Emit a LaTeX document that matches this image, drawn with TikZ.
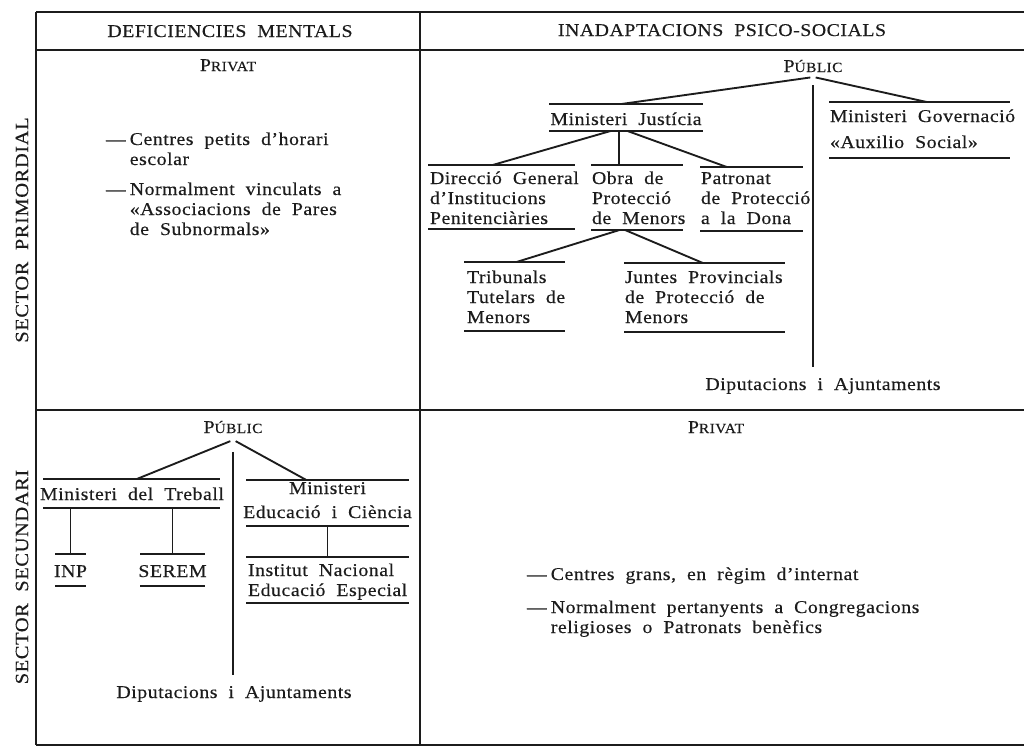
\documentclass[tikz,border=0pt]{standalone}
\usepackage{fontspec}
\setmainfont{Liberation Serif}[FakeStretch=1.1, WordSpace=2, LetterSpace=3, FakeBold=0.3]
\usetikzlibrary{calc}
\definecolor{ink}{RGB}{28,28,28}
\newcommand\lns[1]{\begin{tabular}[t]{@{}l@{}}#1\end{tabular}}
\newcommand\lnsc[1]{\begin{tabular}[t]{@{}c@{}}#1\end{tabular}}
\newcommand\smc[2]{#1{\fontsize{10.5}{12}\selectfont #2}}
\newcommand\dsh{—\hspace{3pt}}
\newcommand\ind{\hphantom{—}\hspace{3pt}}
\newcommand\orgbox[5]{%
  \node[orgb, minimum width={(#4-#2)*0.75pt}, minimum height={(#5-#3)*0.75pt}] (#1) at (#2,#3) {};
  \draw[rule] (#1.north west) -- (#1.north east) (#1.south west) -- (#1.south east);}
\begin{document}
\begin{tikzpicture}[x=0.75pt, y=-0.75pt,
  txt/.style={inner sep=0, outer sep=0, text=ink, font=\fontsize{13.5}{15}\selectfont},
  lbl/.style={txt, font=\fontsize{14}{16}\selectfont, rotate=90},
  orgb/.style={inner sep=0, outer sep=0, anchor=north west},
  rule/.style={draw=ink, line width=1.5pt},
  link/.style={draw=ink, line width=1.4pt},
  frame/.style={draw=ink, line width=1.6pt}]
\useasboundingbox (0,0) rectangle (1024,747);
\fill[white] (0,0) rectangle (1024,747);

% ---- frame ----
\draw[frame] (36,12) -- (1024,12);
\draw[frame] (36,50) -- (1024,50);
\draw[frame] (36,410) -- (1024,410);
\draw[frame] (36,745) -- (1024,745);
\draw[frame] (36,12) -- (36,745);
\draw[frame] (420,12) -- (420,745);

% ---- headers ----
\node[txt, anchor=base] (h1) at (230,37) {DEFICIENCIES MENTALS};
\node[txt, anchor=base] (h2) at (722,36) {INADAPTACIONS PSICO-SOCIALS};
\node[lbl] (s1) at (22,230) {SECTOR PRIMORDIAL};
\node[lbl] (s2) at (22,577) {SECTOR SECUNDARI};

% ---- top left ----
\node[txt, anchor=base] (priv1) at (228,71) {\smc{P}{RIVAT}};
\node[txt, anchor=base west] (tl1) at (106,145) {\lns{\dsh Centres petits d'horari\\\ind escolar}};
\node[txt, anchor=base west] (tl2) at (106,195) {\lns{\dsh Normalment vinculats a\\\ind «Associacions de Pares\\\ind de Subnormals»}};

% ---- top right tree ----
\node[txt, anchor=base] (pub1) at (813,72) {\smc{P}{ÚBLIC}};
\orgbox{mj}{549}{104}{703}{131}
\orgbox{mg}{829}{102}{1010}{158}
\orgbox{dg}{428}{165}{575}{229}
\orgbox{obra}{591}{165}{683}{230}
\orgbox{pat}{700}{167}{803}{231}
\orgbox{trib}{464}{262}{565}{331}
\orgbox{junt}{624}{263}{785}{332}
\node[txt, anchor=base] (mjt) at (626,125) {Ministeri Justícia};
\node[txt, anchor=base west] (mgt) at (830,122) {\lns{Ministeri Governació\\[4.5pt]«Auxilio Social»}};
\node[txt, anchor=base west] (dgt) at (430,184) {\lns{Direcció General\\d'Institucions\\Penitenciàries}};
\node[txt, anchor=base west] (obt) at (592,184) {\lns{Obra de\\Protecció\\de Menors}};
\node[txt, anchor=base west] (patt) at (701,184) {\lns{Patronat\\de Protecció\\a la Dona}};
\node[txt, anchor=base west] (trt) at (467,283) {\lns{Tribunals\\Tutelars de\\Menors}};
\node[txt, anchor=base west] (jut) at (625,283) {\lns{Juntes Provincials\\de Protecció de\\Menors}};
\node[txt, anchor=base] (dip1) at (823,390) {Diputacions i Ajuntaments};
\coordinate (trunk1) at (813,367);

\draw[link] ([shift={(-2pt,-4pt)}]pub1.south) -- ($(mj.north west)!0.47!(mj.north east)$);
\draw[link] ([shift={(2pt,-4pt)}]pub1.south) -- ($(mg.north west)!0.54!(mg.north east)$);
\draw[link] ([yshift=-10pt]pub1.south) -- (trunk1);
\draw[link] ($(mj.south west)!0.40!(mj.south east)$) -- ($(dg.north west)!0.44!(dg.north east)$);
\path ($(mj.south west)!0.455!(mj.south east)$) coordinate (mjv);
\draw[link] (mjv) -- (mjv |- obra.north);
\draw[link] ($(mj.south west)!0.51!(mj.south east)$) -- ($(pat.north west)!0.26!(pat.north east)$);
\draw[link] ($(obra.south west)!0.31!(obra.south east)$) -- ($(trib.north west)!0.52!(trib.north east)$);
\draw[link] ($(obra.south west)!0.37!(obra.south east)$) -- ($(junt.north west)!0.49!(junt.north east)$);

% ---- bottom left tree ----
\node[txt, anchor=base] (pub2) at (233,433) {\smc{P}{ÚBLIC}};
\orgbox{treb}{43}{479}{220}{508}
\orgbox{edu}{246}{480}{409}{526}
\orgbox{inp}{55}{554}{86}{586}
\orgbox{ser}{140}{554}{205}{586}
\orgbox{inst}{246}{557}{409}{603}
\node[txt, anchor=base] (trbt) at (132,500) {Ministeri del Treball};
\node[txt, anchor=base] (edt) at (327.5,494) {\lnsc{Ministeri\\[3pt]Educació i Ciència}};
\node[txt, anchor=base] (inpt) at (70.5,577) {INP};
\node[txt, anchor=base] (sert) at (172.5,577) {SEREM};
\node[txt, anchor=base west] (instt) at (248,576) {\lns{Institut Nacional\\Educació Especial}};
\node[txt, anchor=base] (dip2) at (234,698) {Diputacions i Ajuntaments};
\coordinate (trunk2) at (233,675);

\draw[link] ([shift={(-2pt,-6pt)}]pub2.south) -- ($(treb.north west)!0.53!(treb.north east)$);
\draw[link] ([shift={(2pt,-6pt)}]pub2.south) -- ($(edu.north west)!0.37!(edu.north east)$);
\draw[link] ([yshift=-14pt]pub2.south) -- (trunk2);
\draw[link] (treb.south -| inp.north) -- (inp.north);
\draw[link] (treb.south -| ser.north) -- (ser.north);
\draw[link] (edu.south -| inst.north) -- (inst.north);

% ---- bottom right ----
\node[txt, anchor=base] (priv2) at (716,433) {\smc{P}{RIVAT}};
\node[txt, anchor=base west] (br1) at (527,580) {\dsh Centres grans, en règim d'internat};
\node[txt, anchor=base west] (br2) at (527,613) {\lns{\dsh Normalment pertanyents a Congregacions\\\ind religioses o Patronats benèfics}};
\end{tikzpicture}
\end{document}
